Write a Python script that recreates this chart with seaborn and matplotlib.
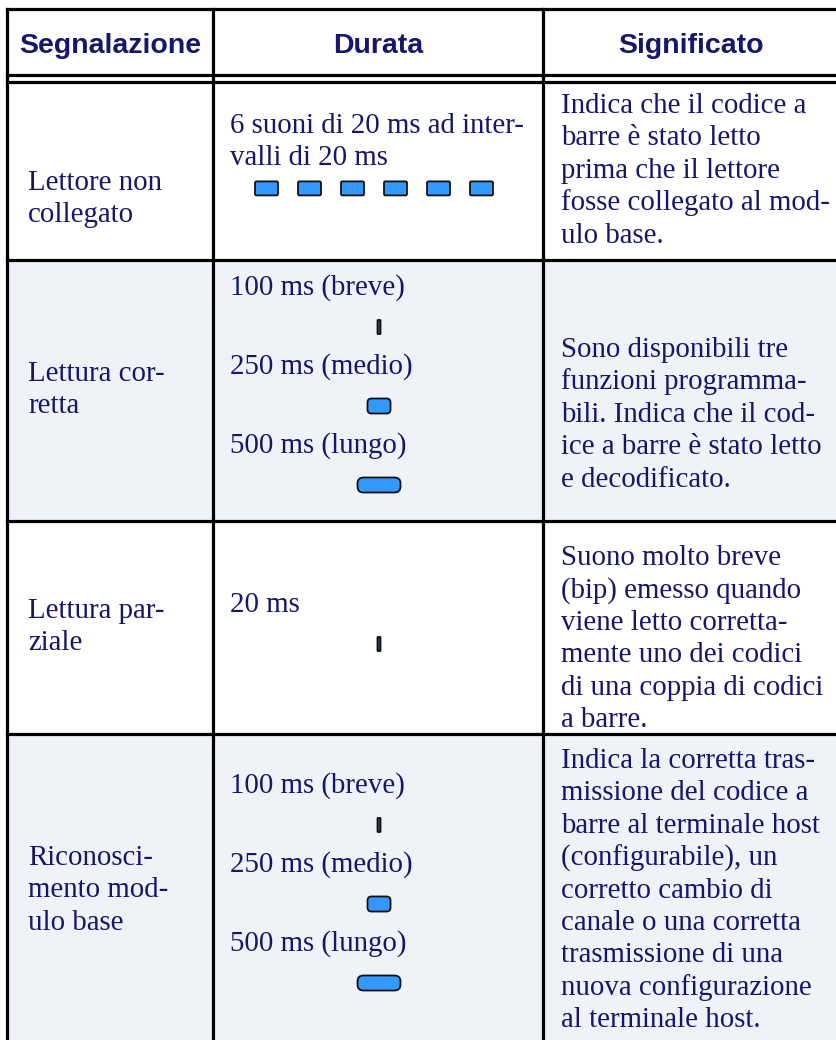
import matplotlib.pyplot as plt
import seaborn as sns
from matplotlib.patches import FancyBboxPatch, Rectangle

sns.set_theme(style="white")
plt.rcParams['font.family'] = ['Liberation Serif', 'DejaVu Serif']

# contenuto della tabella
intestazioni = ["Segnalazione", "Durata", "Significato"]
segnalazioni = [
    ["Lettore non", "collegato"],
    ["Lettura cor-", "retta"],
    ["Lettura par-", "ziale"],
    ["Riconosci-", "mento mod-", "ulo base"],
]
durate_testo = [
    [["6 suoni di 20 ms ad inter-", "valli di 20 ms"]],
    [["100 ms (breve)"], ["250 ms (medio)"], ["500 ms (lungo)"]],
    [["20 ms"]],
    [["100 ms (breve)"], ["250 ms (medio)"], ["500 ms (lungo)"]],
]
durate_bip = [
    [["impulso"] * 6],
    [["linea"], ["breve"], ["lungo"]],
    [["linea"]],
    [["linea"], ["breve"], ["lungo"]],
]
significati = [
    ["Indica che il codice a", "barre è stato letto", "prima che il lettore",
     "fosse collegato al mod-", "ulo base."],
    ["Sono disponibili tre", "funzioni programma-", "bili. Indica che il cod-",
     "ice a barre è stato letto", "e decodificato."],
    ["Suono molto breve", "(bip) emesso quando", "viene letto corretta-",
     "mente uno dei codici", "di una coppia di codici", "a barre."],
    ["Indica la corretta tras-", "missione del codice a", "barre al terminale host",
     "(configurabile), un", "corretto cambio di", "canale o una corretta",
     "trasmissione di una", "nuova configurazione", "al terminale host."],
]

# impaginazione (pixel)
W, H = 836, 1040
X_COL = [7, 213, 543, 838]
Y_TOP = 9
Y_DOPPIA = [75, 82]
Y_RIGHE = [82, 260, 521, 734, 1042]
OMBRA = [False, True, False, True]
X_TESTO = [28, 230, 561]
PRIMA_RIGA = [[182, 125, 105], [373, 287, 349], [610, 604, 557], [857, 785, 760]]
OFFSET_BIP = [31, 40, 40, 40]
PASSO_VOCE = 79
INTERLINEA = 32.4
X_BIP = 379
PASSO_IMPULSO = 43
STILE_BIP = {"impulso": (23, 14, 1.5), "linea": (3, 14, 0.5),
             "breve": (23, 15, 4), "lungo": (43, 15, 6)}

NAVY = '#16166a'
LW = 2.3
FS = 20.8

fig = plt.figure(figsize=(W / 100, H / 100), dpi=100)
ax = fig.add_axes([0, 0, 1, 1])
ax.set_xlim(0, W)
ax.set_ylim(H, 0)
ax.axis('off')

# sfondo righe alterne
for i, ombra in enumerate(OMBRA):
    if ombra:
        ax.add_patch(Rectangle((X_COL[0], Y_RIGHE[i]), X_COL[-1] - X_COL[0],
                               Y_RIGHE[i + 1] - Y_RIGHE[i], facecolor='#eff3f8',
                               edgecolor='none', zorder=0))

# griglia
for y in [Y_TOP] + Y_DOPPIA + Y_RIGHE[1:-1]:
    ax.hlines(y, X_COL[0], X_COL[-1], color='black', lw=LW, capstyle='projecting')
for x in X_COL[:-1]:
    ax.vlines(x, Y_TOP, H, color='black', lw=LW, capstyle='projecting')

# intestazione
for j, testo in enumerate(intestazioni):
    ax.text((X_COL[j] + X_COL[j + 1]) / 2, 53, testo, ha='center', va='baseline',
            fontsize=20.5, fontweight='bold', color=NAVY,
            family=['Liberation Sans Narrow', 'Liberation Sans', 'DejaVu Sans'])


def righe_testo(x, y0, linee):
    for k, linea in enumerate(linee):
        ax.text(x, y0 + k * INTERLINEA + 8, linea, ha='left', va='baseline',
                fontsize=FS, color=NAVY)


def bip(xc, yc, tipo):
    w, h, r = STILE_BIP[tipo]
    ax.add_patch(FancyBboxPatch((xc - w / 2, yc - h / 2), w, h,
                                boxstyle=f"round,pad=0,rounding_size={r}",
                                facecolor='#3399ff' if tipo != 'linea' else '#2b4d7d',
                                edgecolor='#111111', lw=1.3, zorder=3))


for i in range(len(segnalazioni)):
    righe_testo(X_TESTO[0], PRIMA_RIGA[i][0], segnalazioni[i])
    righe_testo(X_TESTO[2], PRIMA_RIGA[i][2], significati[i])
    y = PRIMA_RIGA[i][1]
    for voce, bips in zip(durate_testo[i], durate_bip[i]):
        righe_testo(X_TESTO[1], y, voce)
        yb = y + (len(voce) - 1) * INTERLINEA + OFFSET_BIP[i]
        n = len(bips)
        for k, tipo in enumerate(bips):
            bip(X_BIP - 5 + (k - (n - 1) / 2) * PASSO_IMPULSO if n > 1 else X_BIP, yb, tipo)
        y += PASSO_VOCE

fig.savefig('out.png', dpi=100)
